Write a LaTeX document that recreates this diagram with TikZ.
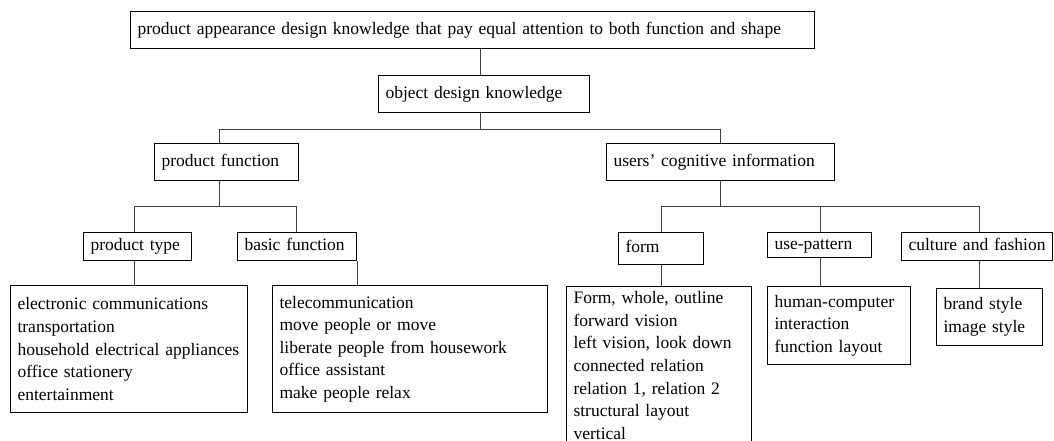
\documentclass[tikz,border=0pt]{standalone}
\usepackage{fontspec}
\setmainfont{Liberation Serif}
\begin{document}
\begin{tikzpicture}[x=1pt,y=-1pt,
  box/.style={draw=black, line width=1.1pt, anchor=north west, inner xsep=7pt, inner ysep=0pt, align=left, font=\fontsize{17.5}{22.6}\selectfont},
  one/.style={box, text height=12.5pt, text depth=4pt},
  conn/.style={draw=black!75, line width=1pt}]
\useasboundingbox (0,0) rectangle (1054,440);
% level 0-2
\node[one, text width=670pt, minimum height=37pt] (top) at (130,11) {\mbox{product appearance design knowledge that pay equal attention to both function and shape}};
\node[one, text width=197pt, minimum height=37pt] (obj) at (378,75) {\mbox{object design knowledge}};
\node[one, text width=130pt, minimum height=37pt] (pf) at (154,143) {\mbox{product function}};
\node[one, text width=214pt, minimum height=37pt] (uci) at (606,143) {\mbox{users’ cognitive information}};
% level 3
\node[one, text width=94pt, minimum height=28pt] (pt) at (83,232) {\mbox{product type}};
\node[one, text width=105pt, minimum height=28pt] (bf) at (237,232) {\mbox{basic function}};
\node[one, text width=71pt, minimum height=32pt] (fm) at (618,232) {\mbox{form}};
\node[one, text width=90pt, minimum height=25pt] (up) at (767,232) {\mbox{use-pattern}};
\node[one, text width=137pt, minimum height=28pt] (cf) at (901,232) {\mbox{culture and fashion}};
% leaves
\node[box, text width=223pt, minimum height=127pt] (L1) at (10,285) {\mbox{electronic communications}\\\mbox{transportation}\\\mbox{household electrical appliances}\\\mbox{office stationery}\\\mbox{entertainment}};
\node[box, text width=261pt, minimum height=127pt] (L2) at (272,285) {\mbox{telecommunication}\\\mbox{move people or move}\\\mbox{liberate people from housework}\\\mbox{office assistant}\\\mbox{make people relax}};
\node[box, text width=171pt, inner ysep=5pt] (L3) at (566,286) {\mbox{Form, whole, outline}\\\mbox{forward vision}\\\mbox{left vision, look down}\\\mbox{connected relation}\\\mbox{relation 1, relation 2}\\\mbox{structural layout}\\\mbox{vertical}};
\node[box, text width=129pt, minimum height=78pt] (L4) at (767,286) {\mbox{human-computer}\\\mbox{interaction}\\\mbox{function layout}};
\node[box, text width=92pt, minimum height=57pt] (L5) at (936,288) {\mbox{brand style}\\\mbox{image style}};
% bus coordinates
\coordinate (b1m) at (480,129);
\coordinate (b1l) at (219,129);
\coordinate (b1r) at (720,129);
\coordinate (b2s) at (219,206);
\coordinate (b2l) at (134,206);
\coordinate (b2r) at (296,206);
\coordinate (b3s) at (720,206);
\coordinate (b3a) at (661,206);
\coordinate (b3b) at (820,206);
\coordinate (b3c) at (979,206);
% connectors
\draw[conn] (top.south -| b1m) -- (obj.north -| b1m);
\draw[conn] (obj.south -| b1m) -- (b1m);
\draw[conn] (b1l |- pf.north) -- (b1l) -- (b1r) -- (b1r |- uci.north);
\draw[conn] (pf.south -| b2s) -- (b2s);
\draw[conn] (b2l |- pt.north) -- (b2l) -- (b2r) -- (b2r |- bf.north);
\draw[conn] (pt.south -| b2l) -- (L1.north -| b2l);
\draw[conn] (bf.south east) -- (L2.north -| bf.south east);
\draw[conn] (uci.south -| b3s) -- (b3s);
\draw[conn] (b3a |- fm.north) -- (b3a) -- (b3c) -- (b3c |- cf.north);
\draw[conn] (b3b) -- (b3b |- up.north);
\draw[conn] (fm.south -| b3a) -- (L3.north -| b3a);
\draw[conn] (up.south -| b3b) -- (L4.north -| b3b);
\draw[conn] (cf.south -| b3c) -- (L5.north -| b3c);
\end{tikzpicture}
\end{document}
